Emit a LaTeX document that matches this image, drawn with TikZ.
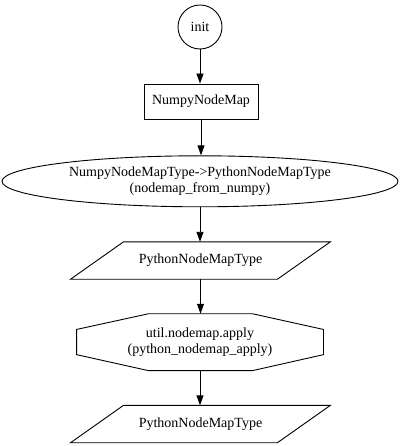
\documentclass[tikz,border=0pt]{standalone}
\usepackage{fontspec}
\setmainfont{Liberation Serif}
\usetikzlibrary{arrows.meta,shapes.geometric,calc}
\begin{document}
\begin{tikzpicture}[x=1pt,y=-1pt,
  every node/.style={font=\fontsize{14}{16}\selectfont, align=center, inner sep=0pt, line width=0.9pt},
  flow/.style={-{Triangle[length=10pt,width=7pt]}, line width=0.9pt},
  outline/.style={draw, line width=0.9pt}
]
\useasboundingbox (0,0) rectangle (401,446);
\node[draw, circle, minimum size=44pt] (init) at (200,27) {init};
\node[draw, rectangle, minimum width=114pt, minimum height=35pt] (np) at (201,101.5) {NumpyNodeMap};
\node[draw, ellipse, minimum width=396pt, minimum height=51pt] (conv) at (200,181.3) {NumpyNodeMapType->PythonNodeMapType\\(nodemap\_from\_numpy)};
\node[minimum width=259pt, minimum height=36.5pt] (p1) at (200.5,260.5) {PythonNodeMapType};
\node[minimum width=246pt, minimum height=56pt] (app) at (200,342.2) {util.nodemap.apply\\(python\_nodemap\_apply)};
\node[minimum width=259pt, minimum height=36.5pt] (p2) at (200.5,424) {PythonNodeMapType};
\foreach \p in {p1,p2}{
  \draw[outline] ($(\p.north west)+(53,0)$) -- (\p.north east) -- ($(\p.south east)-(53,0)$) -- (\p.south west) -- cycle;
}
\draw[outline] ($(app.north west)+(72,0)$) -- ($(app.north east)-(71,0)$) -- ($(app.north east)+(0,15.7)$) -- ($(app.south east)-(0,16)$) -- ($(app.south east)-(71,0)$) -- ($(app.south west)+(72,0)$) -- ($(app.south west)-(0,16)$) -- ($(app.north west)+(0,15.7)$) -- cycle;
\draw[flow] (init) -- (init |- np.north);
\draw[flow] (np) -- (np.south |- conv.north);
\draw[flow] (conv) -- (conv.south |- p1.north);
\draw[flow] (p1) -- (p1.south |- app.north);
\draw[flow] (app) -- (app.south |- p2.north);
\end{tikzpicture}
\end{document}
